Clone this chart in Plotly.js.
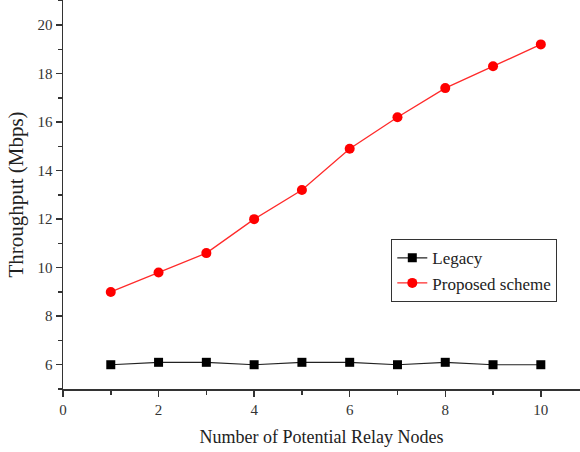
<!DOCTYPE html>
<html>
<head>
<meta charset="utf-8">
<script src="https://cdn.plot.ly/plotly-3.0.1.min.js"></script>
<style>
  html, body { margin: 0; padding: 0; background: #fff; }
  #chart { width: 580px; height: 452px; }
</style>
</head>
<body>
<div id="chart"></div>
<script>
// Number of potential relay nodes
const relayNodes = [1, 2, 3, 4, 5, 6, 7, 8, 9, 10];
// Throughput in Mbps for each scheme
const legacyThroughput = [6.0, 6.1, 6.1, 6.0, 6.1, 6.1, 6.0, 6.1, 6.0, 6.0];
const proposedThroughput = [9.0, 9.8, 10.6, 12.0, 13.2, 14.9, 16.2, 17.4, 18.3, 19.2];
const xTickValues = [0, 2, 4, 6, 8, 10];
const yTickValues = [6, 8, 10, 12, 14, 16, 18, 20];

const serif = 'Liberation Serif, Times New Roman, serif';
const axisColor = '#333333';

const traces = [
  {
    x: relayNodes, y: legacyThroughput, name: 'Legacy',
    type: 'scatter', mode: 'lines+markers',
    line: { color: '#222222', width: 1.2 },
    marker: { symbol: 'square', size: 9, color: '#000000' }
  },
  {
    x: relayNodes, y: proposedThroughput, name: 'Proposed scheme',
    type: 'scatter', mode: 'lines+markers',
    line: { color: '#ff2a2a', width: 1.3 },
    marker: { symbol: 'circle', size: 10, color: '#ff0000' }
  }
];

const layout = {
  width: 580, height: 452,
  margin: { l: 63, r: 0, t: 0, b: 63 },
  paper_bgcolor: '#ffffff', plot_bgcolor: '#ffffff',
  font: { family: serif, color: '#333333', size: 15 },
  showlegend: true,
  legend: {
    x: 0.635, y: 0.385, xanchor: 'left', yanchor: 'top',
    bordercolor: '#333333', borderwidth: 1, bgcolor: '#ffffff',
    font: { family: serif, size: 17, color: '#222222' },
    tracegroupgap: 0, itemwidth: 30
  },
  xaxis: {
    range: [0, 10.82],
    tickvals: xTickValues, ticktext: xTickValues.map(String),
    ticks: 'outside', ticklen: 6, tickwidth: 1.5, tickcolor: axisColor,
    minor: { dtick: 1, tick0: 0, ticks: 'outside', ticklen: 4, tickwidth: 1.5, tickcolor: axisColor, showgrid: false },
    showline: true, linecolor: axisColor, linewidth: 1.5,
    showgrid: false, zeroline: false,
    tickfont: { family: serif, size: 15, color: '#333333' },
    title: { text: 'Number of Potential Relay Nodes', font: { family: serif, size: 18, color: '#222222' }, standoff: 14 }
  },
  yaxis: {
    range: [5, 21.03],
    tickvals: yTickValues, ticktext: yTickValues.map(String),
    ticks: 'outside', ticklen: 6, tickwidth: 1.5, tickcolor: axisColor,
    minor: { dtick: 1, tick0: 0, ticks: 'outside', ticklen: 4, tickwidth: 1.5, tickcolor: axisColor, showgrid: false },
    showline: true, linecolor: axisColor, linewidth: 1.5,
    showgrid: false, zeroline: false,
    tickfont: { family: serif, size: 15, color: '#333333' },
    title: { text: 'Throughput (Mbps)', font: { family: serif, size: 21, color: '#222222' }, standoff: 8 }
  }
};

Plotly.newPlot('chart', traces, layout, { displayModeBar: false, staticPlot: true });
</script>
</body>
</html>
